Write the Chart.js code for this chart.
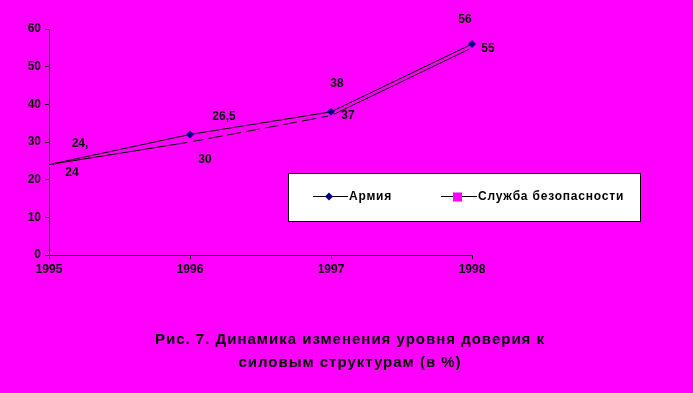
<!DOCTYPE html>
<html>
<head>
<meta charset="utf-8">
<script src="https://cdn.jsdelivr.net/npm/chart.js@4"></script>
<style>
  html, body { margin: 0; padding: 0; background: #FF00FF; }
  #wrap { width: 693px; height: 393px; position: relative; }
</style>
</head>
<body>
<div id="wrap"><canvas id="chart" width="693" height="393"></canvas></div>
<script>
const years = ["1995", "1996", "1997", "1998"];
const armyValues = [24, 32, 38, 56];
const securityValues = [24, 30, 37, 55];
const armyLabels = ["24,", "26,5", "38", "56"];
const securityLabels = ["24", "30", "37", "55"];
const yTicks = [0, 10, 20, 30, 40, 50, 60];
const titleLines = ["Рис. 7. Динамика изменения уровня доверия к", "силовым структурам (в %)"];
const seriesNames = ["Армия", "Служба безопасности"];

// label offsets from their points (moved by hand in the original)
const armyOffsets = [[31, -21], [34, -18], [6, -28], [-7, -24]];
const securityOffsets = [[23, 8], [15, 18], [17, 0], [16, 1]];

const FONT = '"Liberation Sans", Arial, sans-serif';

const pointLabels = {
  id: "pointLabels",
  afterDatasetsDraw(chart) {
    const ctx = chart.ctx;
    const sets = [[armyLabels, armyOffsets], [securityLabels, securityOffsets]];
    ctx.save();
    ctx.font = "bold 12px " + FONT;
    ctx.fillStyle = "#000";
    ctx.textAlign = "center";
    ctx.textBaseline = "middle";
    sets.forEach(([labels, offs], di) => {
      chart.getDatasetMeta(di).data.forEach((pt, i) => {
        ctx.fillText(labels[i], pt.x + offs[i][0], pt.y + offs[i][1]);
      });
    });
    ctx.restore();
  }
};

const boxLegend = {
  id: "boxLegend",
  afterDraw(chart) {
    const ctx = chart.ctx;
    ctx.save();
    ctx.fillStyle = "#fff";
    ctx.fillRect(288, 173, 352, 48);
    ctx.strokeStyle = "#000";
    ctx.lineWidth = 1;
    ctx.strokeRect(288.5, 173.5, 352, 48);

    const y = 196.5;
    ctx.beginPath();
    ctx.moveTo(313, y); ctx.lineTo(348, y);
    ctx.moveTo(441, y); ctx.lineTo(477, y);
    ctx.stroke();
    // diamond
    ctx.fillStyle = "#000080";
    ctx.beginPath();
    ctx.moveTo(329, y - 4); ctx.lineTo(333, y); ctx.lineTo(329, y + 4); ctx.lineTo(325, y);
    ctx.closePath();
    ctx.fill();
    // square
    ctx.fillStyle = "#FF00FF";
    ctx.fillRect(453, y - 4, 9, 9);

    ctx.fillStyle = "#000";
    ctx.font = "bold 12px " + FONT;
    ctx.letterSpacing = "0.8px";
    ctx.textBaseline = "middle";
    ctx.textAlign = "left";
    ctx.fillText(seriesNames[0], 349, y);
    ctx.fillText(seriesNames[1], 478, y);

    // caption
    ctx.font = "bold 15px " + FONT;
    ctx.letterSpacing = "1px";
    ctx.textAlign = "center";
    ctx.fillText(titleLines[0], 350, 340);
    ctx.fillText(titleLines[1], 350, 363);
    ctx.restore();
  }
};

new Chart(document.getElementById("chart"), {
  type: "line",
  data: {
    labels: years,
    datasets: [
      {
        label: seriesNames[0],
        data: armyValues,
        borderColor: "#000",
        borderWidth: 1,
        pointStyle: "rectRot",
        pointRadius: (c) => (c.dataIndex === 0 ? 0 : 4),
        pointBackgroundColor: "#000080",
        pointBorderColor: "#000080",
        pointBorderWidth: 0,
        tension: 0
      },
      {
        label: seriesNames[1],
        data: securityValues,
        borderColor: "#000",
        borderWidth: 1,
        pointStyle: "rect",
        pointRadius: 4,
        pointBackgroundColor: "#FF00FF",
        pointBorderColor: "#FF00FF",
        pointBorderWidth: 0,
        tension: 0,
        segment: {
          borderDash: (c) => (c.p0DataIndex === 1 ? [14, 5] : undefined)
        }
      }
    ]
  },
  options: {
    responsive: false,
    animation: false,
    layout: { padding: { top: 29, right: 221, bottom: 108, left: 0 } },
    plugins: {
      legend: { display: false },
      title: { display: false },
      tooltip: { enabled: false }
    },
    scales: {
      x: {
        type: "category",
        offset: false,
        afterFit: (s) => { s.height = 30; },
        grid: { drawOnChartArea: false, drawTicks: true, tickLength: 4, color: "#000" },
        border: { color: "#000", width: 1 },
        ticks: { color: "#000", font: { family: FONT, size: 12, weight: "bold" }, padding: 3, maxRotation: 0 }
      },
      y: {
        min: 0,
        max: 60,
        afterFit: (s) => { s.width = 49; },
        afterBuildTicks: (s) => { s.ticks = yTicks.map((v) => ({ value: v })); },
        grid: { drawOnChartArea: false, drawTicks: true, tickLength: 4, color: "#000" },
        border: { color: "#000", width: 1 },
        ticks: { color: "#000", font: { family: FONT, size: 12, weight: "bold" }, padding: 4 }
      }
    }
  },
  plugins: [pointLabels, boxLegend]
});
</script>
</body>
</html>
